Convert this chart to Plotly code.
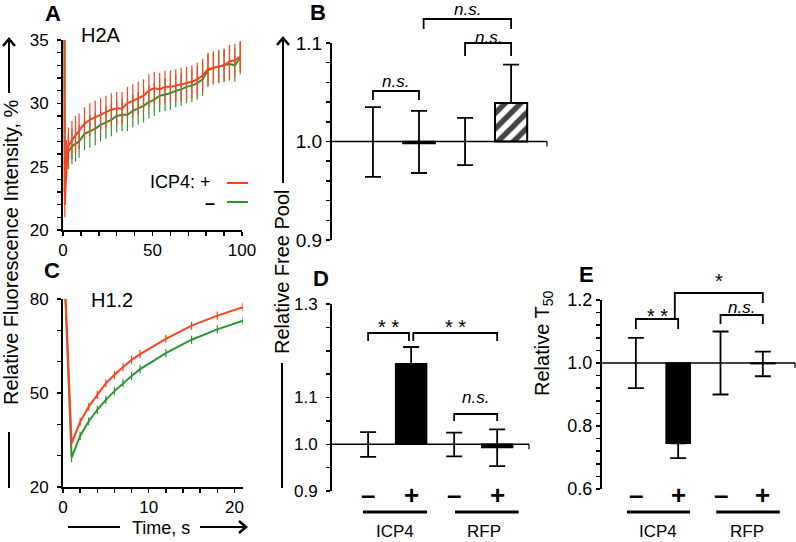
import plotly.graph_objects as go

W, H = 796, 542
def px(x): return x / W
def py(y): return 1 - y / H

RED = '#FF4020'
GREEN = '#2A9632'
FONT = 'Liberation Sans, Arial, sans-serif'

# ---------------- Panel A (H2A) ----------------
a_time = [0, 1, 2, 3, 5, 7, 9, 12, 15, 18, 21, 24, 27, 30, 33, 36, 39, 42, 45, 48,
          51, 54, 57, 60, 63, 66, 69, 72, 75, 78, 81, 84, 87, 90, 93, 96, 99]
a_plus = [100, 22.0, 25.6, 26.6, 27.1, 27.5, 27.8, 28.4, 28.7, 28.9, 29.1, 29.3, 29.5, 29.6,
          29.6, 30.0, 30.2, 30.4, 30.6, 31.0, 31.2, 31.1, 31.3, 31.3, 31.4, 31.5, 31.6, 31.7,
          31.9, 32.2, 32.7, 32.8, 32.9, 33.0, 33.3, 33.4, 33.7]
a_minus = [100, 23.0, 25.4, 26.2, 26.6, 26.8, 27.0, 27.6, 27.8, 28.0, 28.3, 28.5, 28.7, 29.0,
           29.1, 29.1, 29.4, 29.6, 29.8, 30.1, 30.3, 30.6, 30.7, 30.8, 31.0, 31.1, 31.3, 31.4,
           31.6, 31.9, 32.6, 32.8, 32.9, 33.0, 33.1, 33.0, 33.6]
a_plus_err = [0, 1.0, 1.5, 1.5, 1.5, 1.5, 1.4, 1.3, 1.3, 1.3, 1.3, 1.3, 1.3, 1.3, 1.3, 1.3,
              1.3, 1.3, 1.3, 1.3, 1.3, 1.3, 1.3, 1.3, 1.3, 1.3, 1.3, 1.3, 1.3, 1.3, 1.3,
              1.3, 1.3, 1.3, 1.3, 1.3, 1.2]
a_minus_err = [0, 1.0, 1.4, 1.4, 1.4, 1.4, 1.3, 1.3, 1.3, 1.3, 1.3, 1.3, 1.3, 1.3, 1.3, 1.3,
               1.3, 1.3, 1.3, 1.3, 1.3, 1.3, 1.3, 1.3, 1.3, 1.3, 1.3, 1.3, 1.3, 1.3, 1.3,
               1.3, 1.3, 1.3, 1.3, 1.3, 1.3]

# ---------------- Panel C (H1.2) ----------------
c_time = [0, 1, 2, 3, 4, 5, 6, 7, 8, 9, 12, 15, 18, 21]
c_plus = [100, 33.9, 40.8, 45.6, 49.4, 53.1, 55.8, 58.2, 60.6, 62.4, 67.3, 71.5, 74.7, 77.4]
c_minus = [100, 29.4, 36.3, 41.0, 44.6, 47.8, 50.6, 53.1, 55.4, 57.6, 62.7, 67.0, 70.3, 73.1]
c_plus_err = [0, 1.3, 1.3, 1.3, 1.3, 1.3, 1.3, 1.3, 1.3, 1.3, 1.3, 1.3, 1.3, 1.3]
c_minus_err = [0, 1.5, 1.3, 1.3, 1.3, 1.3, 1.3, 1.3, 1.3, 1.3, 1.3, 1.3, 1.3, 1.3]

# ---------------- Panel B (relative free pool, H2A) ----------------
cat_pos = [0, 1, 2, 3]
b_values = [1.0, 0.998, 1.0, 1.039]
b_err_plus = [0.035, 0.033, 0.024, 0.039]
b_err_minus = [0.036, 0.030, 0.024, 0.0]

# ---------------- Panel D (relative free pool, H1.2) ----------------
d_values = [1.0, 1.172, 1.0, 0.993]
d_err_plus = [0.026, 0.036, 0.025, 0.039]
d_err_minus = [0.027, 0.0, 0.026, 0.040]

# ---------------- Panel E (relative T50) ----------------
e_values = [1.0, 0.745, 1.0, 0.998]
e_err_plus = [0.08, 0.0, 0.10, 0.038]
e_err_minus = [0.08, 0.047, 0.10, 0.040]

sign_labels = ['–', '+', '–', '+']
group_labels = ['ICP4', 'RFP']

fig = go.Figure()

def line_trace(x, y, err, color, xa, ya):
    return go.Scatter(x=x, y=y, mode='lines', line=dict(color=color, width=2),
                      error_y=dict(type='data', array=err, color=color, thickness=1.2, width=0),
                      xaxis=xa, yaxis=ya, showlegend=False, hoverinfo='skip')

fig.add_trace(line_trace(a_time, a_minus, a_minus_err, GREEN, 'x', 'y'))
fig.add_trace(line_trace(a_time, a_plus, a_plus_err, RED, 'x', 'y'))
fig.add_trace(line_trace(c_time, c_minus, c_minus_err, GREEN, 'x3', 'y3'))
fig.add_trace(line_trace(c_time, c_plus, c_plus_err, RED, 'x3', 'y3'))

def bar_trace(values, ep, em, colors, lw, patterns, width, xa, ya):
    return go.Bar(x=cat_pos, y=[v - 1.0 for v in values], base=1.0, width=width,
                  marker=dict(color=colors, line=dict(color='black', width=lw),
                              pattern=dict(shape=patterns, fgcolor='black', bgcolor='white',
                                           fgopacity=1, size=11, solidity=0.5, fillmode='overlay')),
                  error_y=dict(type='data', symmetric=False, array=ep, arrayminus=em,
                               color='black', thickness=1.8, width=8),
                  xaxis=xa, yaxis=ya, showlegend=False, hoverinfo='skip')

T = 'rgba(0,0,0,0)'
fig.add_trace(bar_trace(b_values, b_err_plus, b_err_minus, [T, 'black', T, 'white'],
                        [0, 1.5, 0, 2], ['', '', '', '/'], 0.7, 'x2', 'y2'))
fig.add_trace(bar_trace(d_values, d_err_plus, d_err_minus, [T, 'black', T, 'black'],
                        [0, 1.5, 0, 1.5], ['', '', '', ''], 0.72, 'x4', 'y4'))
fig.add_trace(bar_trace(e_values, e_err_plus, e_err_minus, [T, 'black', T, 'black'],
                        [0, 1.5, 0, 1.5], ['', '', '', ''], 0.57, 'x5', 'y5'))

def yax(d0, d1, rng, tickvals, ticktext, mdt, mt0, anchor, size, standoff):
    return dict(domain=[py(d1), py(d0)], range=rng, tickvals=tickvals, ticktext=ticktext,
                ticks='outside', ticklen=4, tickwidth=1.5, tickcolor='black',
                showline=True, linewidth=2, linecolor='black', showgrid=False, zeroline=False,
                tickfont=dict(size=size, color='black', family=FONT), ticklabelstandoff=standoff,
                minor=dict(ticks='outside', dtick=mdt, tick0=mt0, ticklen=4, tickwidth=1.5,
                           tickcolor='black', showgrid=False),
                anchor=anchor, fixedrange=True, automargin=False)

def xax(x0, x1, rng, tickvals, ticktext, mdt, anchor, size):
    return dict(domain=[px(x0), px(x1)], range=rng, tickvals=tickvals, ticktext=ticktext,
                ticks='outside', ticklen=4, tickwidth=1.5, tickcolor='black',
                showline=True, linewidth=2, linecolor='black', showgrid=False, zeroline=False,
                tickfont=dict(size=size, color='black', family=FONT),
                minor=dict(ticks='outside', dtick=mdt, tick0=0, ticklen=4, tickwidth=1.5,
                           tickcolor='black', showgrid=False),
                anchor=anchor, fixedrange=True, automargin=False)

def hidden_x(x0, x1, rng, anchor):
    return dict(domain=[px(x0), px(x1)], range=rng, visible=False, anchor=anchor,
                fixedrange=True, automargin=False)

fig.update_layout(
    template='none',
    width=W, height=H, margin=dict(l=0, r=0, t=0, b=0, pad=0, autoexpand=False),
    paper_bgcolor='white', plot_bgcolor='rgba(0,0,0,0)',
    font=dict(family=FONT, color='black'), bargap=0, showlegend=False,
    xaxis=xax(63, 242, [0, 100], [0, 50, 100], ['0', '50', '100'], 10, 'y', 17),
    yaxis=yax(40, 230, [20, 35], [20, 25, 30, 35], ['20', '25', '30', '35'], 1, 20, 'x', 17, 5),
    xaxis2=hidden_x(332, 547, [-0.89, 3.78], 'y2'),
    yaxis2=yax(43, 240, [0.9, 1.1], [0.9, 1.0, 1.1], ['0.9', '1.0', '1.1'], 0.02, 0.9, 'x2', 19, 0),
    xaxis3=xax(63, 243, [0, 21], [0, 10, 20], ['0', '10', '20'], 2, 'y3', 17),
    yaxis3=yax(299, 487, [20, 80], [20, 50, 80], ['20', '50', '80'], 10, 20, 'x3', 17, 5),
    xaxis4=hidden_x(332, 529, [-0.84, 3.74], 'y4'),
    yaxis4=yax(304, 491, [0.9, 1.3], [0.9, 1.0, 1.1, 1.3], ['0.9', '1.0', '1.1', '1.3'], 0.05, 0.9, 'x4', 17, 5),
    xaxis5=hidden_x(602, 795, [-0.8, 3.76], 'y5'),
    yaxis5=yax(300, 489, [0.6, 1.2], [0.6, 0.8, 1.0, 1.2], ['0.6', '0.8', '1.0', '1.2'], 0.04, 0.6, 'x5', 18, 0),
)

shapes = []
ann = []

def text(x, y, s, size, bold=False, italic=False, xref='paper', xanchor='center', angle=0):
    if bold:
        s = '<b>' + s + '</b>'
    if italic:
        s = '<i>' + s + '</i>'
    ann.append(dict(x=x if xref != 'paper' else px(x), y=py(y), xref=xref, yref='paper', text=s,
                    showarrow=False, xanchor=xanchor, yanchor='middle', textangle=angle,
                    font=dict(size=size, color='black', family=FONT)))

def pline(x0, y0, x1, y1, width=2, color='black'):
    shapes.append(dict(type='line', xref='paper', yref='paper', x0=px(x0), y0=py(y0),
                       x1=px(x1), y1=py(y1), line=dict(color=color, width=width)))

def ppath(points, width=2.5):
    d = 'M ' + ' L '.join('{},{}'.format(px(x), py(y)) for x, y in points)
    shapes.append(dict(type='path', xref='paper', yref='paper', path=d,
                       line=dict(color='black', width=width)))

def bracket(xref, x0, x1, ytop, yl0, yl1, lw=1.8):
    path = 'M {},{} L {},{} L {},{} L {},{}'.format(x0, py(yl0), x0, py(ytop), x1, py(ytop), x1, py(yl1))
    shapes.append(dict(type='path', xref=xref, yref='paper', path=path,
                       line=dict(color='black', width=lw)))

def refline(xa, ya):
    shapes.append(dict(type='line', xref=xa + ' domain', yref=ya, x0=0, x1=1, y0=1.0, y1=1.0,
                       line=dict(color='black', width=1.5), layer='above'))
    shapes.append(dict(type='line', xref=xa + ' domain', yref=ya, x0=1, x1=1, ysizemode='pixel',
                       yanchor=1.0, y0=0, y1=-5, line=dict(color='black', width=1.2), layer='above'))

refline('x2', 'y2')
refline('x4', 'y4')
refline('x5', 'y5')

# panel letters
for lab, (x, y) in zip('ABCDE', [(53, 14), (318, 12), (52, 270), (321, 278), (586, 274)]):
    text(x, y, lab, 22, bold=True)

text(101, 35, 'H2A', 20)
text(112, 300, 'H1.2', 20)

# legend for A
text(213, 182, 'ICP4: +', 18, xanchor='right')
text(210, 203, '–', 18, bold=True)
pline(227, 183, 248, 183, 2, RED)
pline(227, 202, 248, 202, 2, GREEN)

# y title A/C with arrow
text(11, 252, 'Relative Fluorescence Intensity, %', 20, angle=-90)
pline(9, 39, 9, 93, 2)
ppath([(3, 46), (9, 39), (15, 46)])
pline(9, 432, 9, 488, 2)

# x title C with arrow
text(161, 528, 'Time, s', 18)
pline(68, 527, 120, 527, 2)
pline(200, 527, 246, 527, 2)
ppath([(239, 521), (246, 527), (239, 533)])

# y title B/D with arrow
text(282, 272, 'Relative Free Pool', 20, angle=-90)
pline(283, 38, 283, 183, 2)
ppath([(277, 45), (283, 38), (289, 45)])
pline(282, 363, 282, 488, 2)

# y title E
ann.append(dict(x=px(558), y=py(398), xref='paper', yref='paper',
                text='Relative T<sub>50</sub>', showarrow=False, textangle=-90,
                font=dict(size=20, color='black', family=FONT)))

# B brackets
bracket('x2', 0, 1, 91, 100, 100)
text(0.5, 82, 'n.s.', 17, italic=True, xref='x2')
bracket('x2', 2, 3, 43, 56, 56)
text(2.5, 38, 'n.s.', 17, italic=True, xref='x2')
bracket('x2', 1.1, 3, 19, 29, 29)
text(2.05, 10, 'n.s.', 17, italic=True, xref='x2')

# D brackets
bracket('x4', 0, 0.95, 333, 341, 341)
text(0.48, 327, '* *', 20, xref='x4')
bracket('x4', 1.05, 3, 333, 341, 341)
text(2.02, 327, '* *', 20, xref='x4')
bracket('x4', 2, 3, 414, 421, 421)
text(2.5, 397, 'n.s.', 17, italic=True, xref='x4')

# E brackets
bracket('x5', 0, 1, 319, 329, 329)
text(0.5, 316, '* *', 20, xref='x5')
bracket('x5', 2, 3, 315, 324, 324)
text(2.5, 307, 'n.s.', 17, italic=True, xref='x5')
bracket('x5', 0.92, 3, 293, 319, 303)
text(1.96, 281, '*', 20, xref='x5')

# category sign labels and group labels for D and E
for xa, lines, centers in [('x4', [(-0.12, 1.37), (2.02, 3.5)], [0.63, 2.7]),
                           ('x5', [(-0.21, 1.28), (1.9, 3.4)], [0.52, 2.63])]:
    for i, s in enumerate(sign_labels):
        text(cat_pos[i], 495, s, 26, bold=True, xref=xa)
    for (l0, l1), c, g in zip(lines, centers, group_labels):
        shapes.append(dict(type='line', xref=xa, yref='paper', x0=l0, x1=l1, y0=py(512), y1=py(512),
                           line=dict(color='black', width=3)))
        text(c, 531, g, 17, xref=xa)

fig.update_layout(shapes=shapes, annotations=ann)
fig.write_html('out.html', config={'displayModeBar': False, 'staticPlot': True},
               post_script="document.body.style.margin='0';document.body.style.padding='0';"
                           "document.body.style.overflow='hidden';")
